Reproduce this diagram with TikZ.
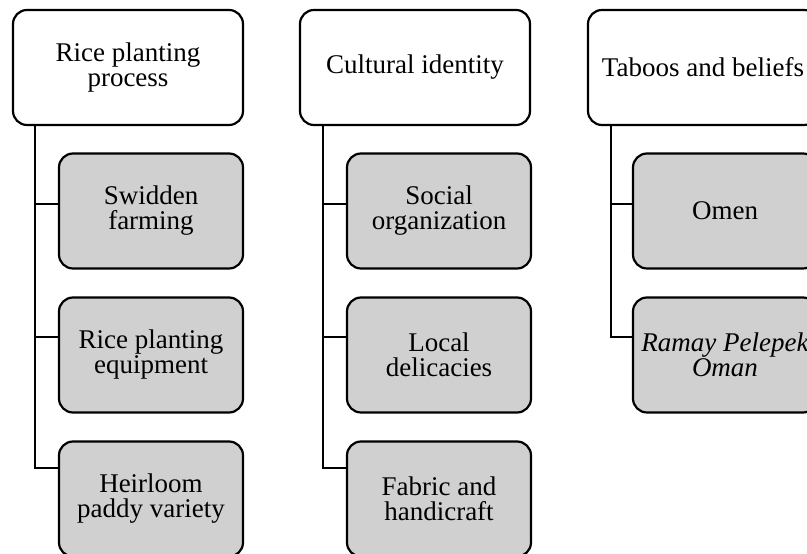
\documentclass[tikz,border=0pt]{standalone}
\usepackage{fontspec}
\setmainfont{Liberation Serif}
\usepackage{xcolor}
\usepackage{tikz}
\definecolor{BoxGray}{HTML}{D0D0D0}

\begin{document}
\begin{tikzpicture}[x=1pt, y=1pt,
            topbox/.style={draw=black, line width=2.2pt, rounded corners=14pt, fill=white, align=center, minimum width=230pt, minimum height=115pt, inner sep=0pt, font=\fontsize{27}{25}\selectfont},
            subbox/.style={topbox, fill=BoxGray, minimum width=184pt, minimum height=115pt},
            branch/.style={draw=black, line width=2.2pt}
        ]
            \useasboundingbox (0,0) rectangle (807,554);
            \clip (0,0) rectangle (807,554);

            % first column
            \node[topbox] at (128, 486.5) (rice) {Rice planting\\process};
            \node[subbox] at (151, 343) (swidden) {Swidden\\farming};
            \node[subbox] at (151, 199) (equip) {Rice planting\\equipment};
            \node[subbox] at (151, 55) (heirloom) {Heirloom\\paddy variety};

            % second column
            \node[topbox] at (415, 486.5) (culture) {Cultural identity};
            \node[subbox] at (439, 343) (social) {Social\\organization};
            \node[subbox] at (439, 199) (delicacy) {Local\\delicacies};
            \node[subbox] at (439, 55) (fabric) {Fabric and\\handicraft};

            % third column
            \node[topbox] at (703, 486.5) (taboo) {Taboos and beliefs};
            \node[subbox] at (725, 343) (omen) {Omen};
            \node[subbox] at (725, 199) (ramay) {\itshape Ramay Pelepek\\\itshape Oman};

            \draw[branch] ([xshift=23pt]rice.south west) |- ([yshift=7pt]swidden.west);
            \draw[branch] ([xshift=23pt]rice.south west) |- ([yshift=18pt]equip.west);
            \draw[branch] ([xshift=23pt]rice.south west) |- ([yshift=31pt]heirloom.west);

            \draw[branch] ([xshift=24pt]culture.south west) |- ([yshift=7pt]social.west);
            \draw[branch] ([xshift=24pt]culture.south west) |- ([yshift=18pt]delicacy.west);
            \draw[branch] ([xshift=24pt]culture.south west) |- ([yshift=31pt]fabric.west);

            \draw[branch] ([xshift=24pt]taboo.south west) |- ([yshift=7pt]omen.west);
            \draw[branch] ([xshift=24pt]taboo.south west) |- ([yshift=18pt]ramay.west);

        \end{tikzpicture}
\end{document}
